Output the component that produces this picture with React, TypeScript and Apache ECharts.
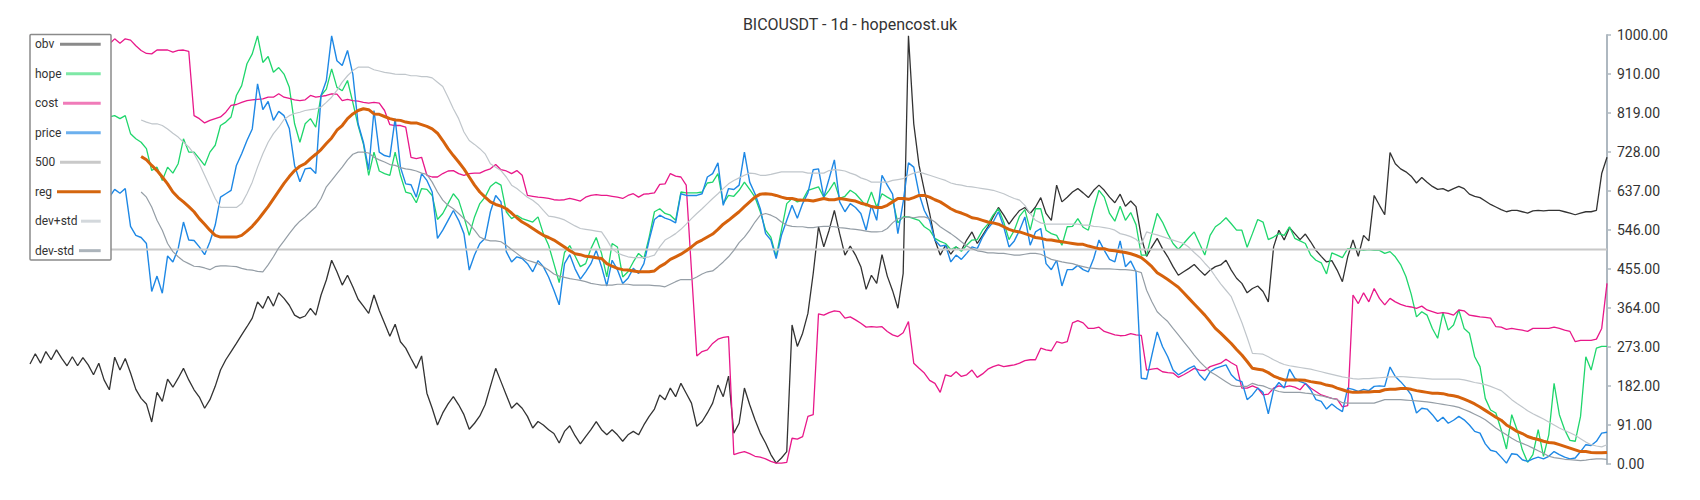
import React, { useEffect, useRef } from "react";
import * as echarts from "echarts";

const TITLE = "BICOUSDT - 1d - hopencost.uk";

const obv = [
  233,257,235,262,243,266,246,229,250,229,
  248,231,208,235,196,173,249,219,246,212,
  174,153,140,98,167,146,198,179,200,223,
  196,173,156,130,150,181,219,243,262,281,
  301,320,340,378,363,391,368,399,386,370,
  347,340,345,363,347,394,429,475,448,417,
  440,413,384,368,351,394,358,328,298,326,
  285,270,246,223,252,165,130,91,119,140,
  157,138,115,81,95,112,138,181,223,192,
  161,130,142,130,111,84,99,91,80,71,
  49,76,89,66,47,64,80,99,80,68,
  80,68,53,68,76,68,91,111,128,161,
  150,177,157,188,165,142,88,99,119,142,
  184,157,205,72,95,177,138,103,72,49,
  22,2,14,29,324,274,305,351,444,553,
  506,545,591,537,487,508,487,460,407,440,
  421,488,438,404,363,444,998,793,696,638,
  584,522,487,510,489,506,498,522,541,514,
  533,553,576,598,580,559,576,591,598,584,
  599,621,584,568,650,611,622,634,642,632,
  621,638,650,638,622,609,629,601,613,600,
  529,484,506,526,502,483,460,440,448,456,
  465,452,440,452,460,464,475,452,433,421,
  399,409,415,402,378,506,545,522,551,537,
  523,536,518,498,484,471,474,452,425,483,
  522,484,533,520,626,603,581,726,700,688,
  681,671,655,668,657,647,640,642,636,642,
  647,642,629,624,621,613,605,599,593,588,
  591,591,588,585,590,591,590,591,591,591,
  588,585,581,585,588,588,591,677,715
];

const hope = [
  805,800,810,815,805,800,812,818,808,800,
  805,812,808,803,810,809,812,805,812,770,
  758,750,735,684,692,661,692,678,700,758,
  727,727,712,696,727,743,789,797,809,859,
  882,933,956,998,936,950,913,924,909,878,
  793,750,793,805,785,859,874,921,878,870,
  894,843,789,746,673,727,683,677,673,727,
  673,634,630,609,642,640,626,570,584,607,
  630,615,576,533,576,607,622,647,657,650,
  588,572,580,572,568,564,576,537,510,467,
  423,493,509,485,460,467,502,528,491,436,
  514,506,436,448,471,491,479,529,588,595,
  584,580,568,634,632,632,632,634,655,657,
  677,607,626,624,638,657,640,622,588,545,
  529,483,545,607,619,611,615,638,642,646,
  622,638,657,619,624,638,630,616,601,634,
  599,630,622,615,562,576,576,572,568,553,
  545,526,519,514,500,506,496,510,522,523,
  545,559,580,595,564,523,545,578,593,545,
  595,595,545,537,533,510,553,554,572,552,
  545,595,638,622,584,566,601,568,586,558,
  487,487,537,584,564,537,514,500,514,528,
  541,514,487,533,553,562,574,560,545,545,
  505,537,570,564,523,529,537,533,553,526,
  520,514,487,475,469,443,492,487,481,502,
  502,500,498,500,498,498,491,495,483,465,
  437,396,343,355,347,316,293,353,312,324,
  359,316,305,250,227,153,126,119,80,35,
  115,80,33,4,22,80,18,68,188,115,
  80,55,53,111,250,219,270,274,274
];

const cost = [
  995,998,1000,998,996,1000,997,993,990,988,
  985,987,984,982,980,979,991,981,991,988,
  975,964,957,956,965,965,965,960,964,965,
  962,812,805,795,801,805,809,820,836,838,
  843,847,849,850,851,855,855,863,855,852,
  849,847,849,859,855,857,859,863,862,847,
  850,847,846,843,841,843,841,824,791,789,
  789,785,715,712,715,673,669,669,677,683,
  684,677,673,677,678,678,684,688,698,686,
  683,677,684,673,626,624,622,621,619,616,
  615,616,619,616,613,622,626,628,626,626,
  624,622,619,626,630,622,629,630,632,652,
  653,677,671,669,650,450,252,262,266,281,
  291,295,297,22,26,29,24,18,16,12,
  6,2,2,4,60,58,64,111,115,350,
  347,353,357,355,340,343,336,328,319,320,
  319,320,309,301,297,306,332,235,223,212,
  195,188,167,208,204,215,204,208,219,202,
  210,221,227,231,227,229,231,235,241,243,
  243,270,266,264,285,282,285,329,334,329,
  316,316,319,309,305,301,299,300,304,301,
  300,219,221,223,215,213,212,202,208,215,
  223,219,218,227,231,235,244,236,229,177,
  177,182,177,161,163,177,182,179,182,179,
  173,188,177,169,161,157,153,151,133,136,
  394,374,399,378,409,386,371,386,378,372,
  368,366,363,368,359,355,351,353,351,347,
  359,357,347,345,343,342,340,320,319,314,
  316,314,312,309,316,316,316,316,319,316,
  312,309,285,288,288,288,291,316,421
];

const price = [
  640,645,635,650,640,630,645,655,640,630,
  625,635,630,625,620,622,640,631,642,554,
  533,528,514,402,438,398,485,471,502,564,
  522,521,506,488,518,557,622,630,638,696,
  723,754,781,886,826,845,801,822,812,782,
  696,658,688,690,677,859,894,998,940,929,
  964,909,793,750,686,824,727,719,716,805,
  692,653,651,622,677,661,634,526,545,568,
  591,568,537,452,487,514,526,588,626,611,
  495,471,483,479,467,448,474,460,436,405,
  371,467,488,455,431,448,467,498,460,415,
  475,453,421,433,456,444,467,522,570,580,
  573,569,562,630,626,626,626,630,669,677,
  702,603,642,640,650,727,657,630,595,537,
  522,479,533,568,603,573,607,632,686,688,
  622,665,709,611,588,607,598,584,545,603,
  568,673,650,629,537,611,702,692,630,591,
  568,522,508,510,471,487,477,491,506,502,
  529,549,564,588,553,506,520,545,576,510,
  541,549,467,453,475,415,453,453,463,453,
  448,479,522,498,477,471,520,460,473,448,
  200,198,254,308,274,250,219,208,215,223,
  229,208,195,215,223,227,231,208,196,192,
  150,161,177,167,117,173,190,177,221,200,
  192,188,173,150,146,128,140,130,122,177,
  174,169,174,171,181,182,181,226,204,192,
  178,161,119,130,128,115,99,109,95,102,
  111,103,91,76,72,47,32,29,16,2,
  24,22,10,6,12,16,12,18,29,22,
  16,12,14,29,45,43,53,72,74
];

const N = obv.length;
const days = Array.from({ length: N }, (_, i) => String(i + 1));
const line500 = Array.from({ length: N }, () => 500);

const reg = [
  null,null,null,null,null,null,null,null,null,null,
  null,null,null,null,null,null,null,null,null,null,
  null,717,709,696,684,669,653,634,621,611,
  600,588,572,559,545,533,529,529,529,529,
  533,543,554,568,584,600,618,636,654,670,
  684,694,700,712,722,733,747,760,778,789,
  805,816,824,828,826,816,815,810,805,802,
  801,797,795,795,791,787,781,771,754,735,
  719,704,688,669,650,634,622,611,605,601,
  595,585,574,564,557,549,541,533,528,522,
  514,506,497,490,488,484,483,481,479,467,
  461,456,453,452,450,448,448,448,450,460,
  467,477,483,489,497,506,516,522,529,536,
  547,559,568,578,588,600,611,622,629,630,
  629,626,622,619,619,616,615,615,613,616,
  619,616,616,619,617,615,613,608,605,600,
  598,598,603,611,619,619,617,621,626,626,
  622,616,611,603,595,589,585,580,574,572,
  568,564,562,559,553,547,543,541,537,533,
  528,526,523,522,520,518,516,514,512,512,
  508,505,502,502,498,497,495,493,490,486,
  481,471,460,446,438,430,421,412,399,386,
  373,360,347,332,316,305,293,281,267,254,
  239,223,221,219,213,205,200,196,196,196,
  196,195,192,190,188,184,182,177,173,169,
  167,167,168,168,169,169,173,174,174,176,
  176,174,171,169,167,165,165,164,161,159,
  156,151,146,140,133,125,117,109,102,91,
  84,76,71,64,60,57,53,50,49,45,
  41,37,33,29,29,27,26,26,27
];

const devPlus = [
  null,null,null,null,null,null,null,null,null,null,
  null,null,null,null,null,null,null,null,null,null,
  null,802,797,793,793,789,781,771,762,750,
  739,723,700,673,646,619,598,598,598,598,
  607,630,657,692,723,750,770,785,803,812,
  817,820,824,826,828,832,843,855,871,890,
  905,917,925,925,925,919,916,913,911,909,
  908,908,905,905,903,903,900,890,880,855,
  828,805,774,754,745,735,723,700,692,684,
  669,650,642,632,622,615,605,591,578,576,
  573,569,562,555,549,547,545,543,541,523,
  502,492,487,483,481,481,481,483,487,506,
  522,529,537,547,559,572,584,595,607,619,
  630,642,653,661,667,673,678,677,673,673,
  675,678,681,681,681,681,681,678,678,678,
  678,684,686,685,683,678,674,667,663,657,
  657,657,657,661,663,665,673,678,681,677,
  673,669,665,661,655,652,650,647,646,644,
  642,640,638,634,630,624,619,615,603,584,
  568,562,559,559,559,559,559,559,559,557,
  557,554,553,551,549,545,537,534,530,524,
  512,541,537,534,530,526,522,518,514,505,
  493,482,468,455,437,420,405,390,360,330,
  295,258,257,256,250,243,237,232,229,227,
  225,223,221,218,215,212,209,206,203,201,
  199,198,199,199,200,201,202,203,203,204,
  203,202,201,200,199,198,198,198,198,198,
  198,196,193,190,188,185,181,176,171,161,
  150,141,133,124,117,111,105,98,91,84,
  78,73,67,59,51,45,42,40,45
];

const devMinus = [
  null,null,null,null,null,null,null,null,null,null,
  null,null,null,null,null,null,null,null,null,null,
  null,634,622,599,568,545,514,495,483,473,
  467,461,460,457,453,460,462,462,461,460,
  456,453,452,449,448,464,483,504,520,537,
  553,566,576,588,599,619,646,661,677,692,
  709,722,727,727,725,715,709,704,698,696,
  691,688,686,683,678,675,657,634,615,603,
  595,584,572,560,545,529,523,520,520,518,
  510,500,491,481,475,471,467,460,452,443,
  438,435,432,430,428,425,421,419,417,417,
  417,419,419,419,417,417,417,417,416,415,
  413,419,425,430,430,430,436,443,448,450,
  460,471,483,498,516,529,545,564,580,584,
  580,574,564,557,554,553,553,551,551,553,
  554,554,553,551,550,548,547,545,543,541,
  541,542,549,562,572,574,576,574,576,576,
  572,564,553,545,537,528,518,508,502,497,
  495,492,492,491,491,489,487,487,489,491,
  491,489,483,477,474,471,469,467,463,460,
  457,456,455,455,455,454,453,453,452,450,
  446,405,378,355,343,332,316,301,285,270,
  254,239,227,215,208,200,192,184,181,181,
  181,188,184,182,177,173,169,167,167,167,
  167,165,164,161,159,156,153,150,143,142,
  142,142,142,142,142,146,150,150,150,150,
  149,148,147,146,145,143,141,139,137,135,
  132,127,122,116,110,103,94,84,76,68,
  60,53,48,43,37,31,25,18,15,13,
  11,10,9,8,9,11,12,12,11
];

const seriesNames = ["obv", "hope", "cost", "price", "500", "reg", "dev+std", "dev-std"];
const seriesColors = ["#333333", "#1fd66c", "#e8188a", "#1e88e5", "#c8c8c8", "#d6620c", "#c0c6cb", "#959ea6"];
const legendIconColors = ["#8a8a8a", "#7ee8a6", "#f07bb9", "#6cb0ee", "#c9c9c9", "#d4660f", "#d3d8dc", "#acb4bb"];
const legendIconStart = [60, 66, 63, 66, 60, 57, 81, 79];

export default function App() {
  const ref = useRef<HTMLDivElement>(null);

  useEffect(() => {
    if (!ref.current) return;
    const chart = echarts.init(ref.current, undefined, { renderer: "svg" });

    const dataSets = [obv, hope, cost, price, line500, reg, devPlus, devMinus];
    const widths = [1.3, 1.3, 1.3, 1.4, 2, 3, 1.2, 1.2];

    const series = seriesNames.map((name, k) => ({
      name,
      type: "line",
      data: dataSets[k],
      showSymbol: false,
      symbol: "none",
      lineStyle: { color: seriesColors[k], width: widths[k] },
      itemStyle: { color: seriesColors[k] },
      emphasis: { disabled: true },
      silent: true,
      z: 2,
    }));

    const legendTop = 44.3;
    const legendStep = 29.48;
    const legendElements: any[] = [
      {
        type: "rect",
        z: 100,
        zlevel: 1,
        shape: { x: 30, y: 34.5, width: 81, height: 225.5, r: 1 },
        style: { fill: "#ffffff", stroke: "#8a8a8a", lineWidth: 1.5 },
        silent: true,
      },
    ];
    seriesNames.forEach((name, k) => {
      const y = legendTop + k * legendStep;
      legendElements.push({
        type: "text",
        z: 101,
        zlevel: 1,
        x: 35,
        y: y,
        silent: true,
        style: {
          text: name,
          fill: "#333333",
          font: "12px Roboto",
          verticalAlign: "middle",
          align: "left",
        },
      });
      legendElements.push({
        type: "line",
        z: 101,
        zlevel: 1,
        silent: true,
        shape: { x1: legendIconStart[k], y1: y, x2: 100.7, y2: y },
        style: { stroke: legendIconColors[k], lineWidth: 3 },
      });
    });

    chart.setOption({
      animation: false,
      backgroundColor: "#ffffff",
      textStyle: { fontFamily: "Roboto" },
      title: {
        text: TITLE,
        left: "center",
        top: 11,
        textStyle: { fontSize: 16, fontWeight: "normal", color: "#333333", fontFamily: "Roboto" },
      },
      grid: { left: 30, right: 93, top: 35, bottom: 36, containLabel: false },
      xAxis: {
        type: "category",
        data: days,
        boundaryGap: false,
        show: false,
      },
      yAxis: {
        type: "value",
        position: "right",
        min: 0,
        max: 1000,
        interval: 91,
        axisLine: { show: true, lineStyle: { color: "#aeb8c0", width: 2 } },
        axisTick: { show: true, length: 4, lineStyle: { color: "#aeb8c0", width: 1.5 } },
        axisLabel: {
          formatter: (v: number) => v.toFixed(2),
          color: "#333333",
          fontSize: 14,
          margin: 10,
          fontFamily: "Roboto",
        },
        splitLine: { show: false },
      },
      series,
      graphic: legendElements,
    });

    return () => chart.dispose();
  }, []);

  return (
    <div
      ref={ref}
      style={{ position: "absolute", left: 0, top: 0, width: 1700, height: 500 }}
    />
  );
}
